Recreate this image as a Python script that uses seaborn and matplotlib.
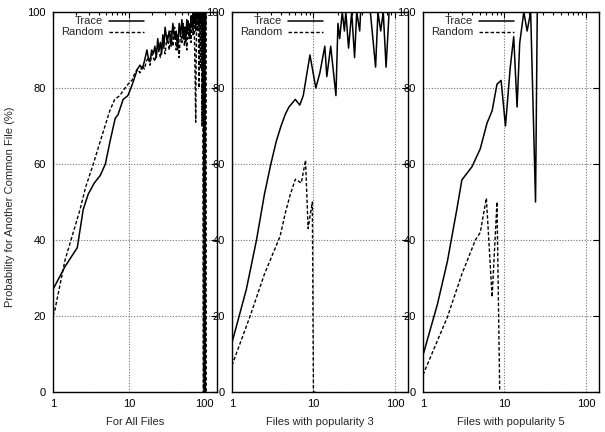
import matplotlib
matplotlib.use("Agg")
import matplotlib.pyplot as plt
import matplotlib.ticker as mticker
import numpy as np
import seaborn as sns

# Panel 1: all files
all_trace_x = [1, 1.44, 2.09, 2.5, 2.9, 3.5, 4.2, 4.9, 5.65, 6.6, 7.2, 8.4, 9.7, 10.9, 12, 13, 14, 15, 16, 17.3,
               18, 19, 20, 21, 22, 23, 24, 25, 26, 27, 28, 29, 30, 32, 34, 36, 38, 40, 42, 44, 46, 48, 50, 52,
               54, 56, 58, 60, 62, 64, 66, 68, 70, 72, 74, 76, 78, 80, 82, 84, 86, 88, 90, 92, 94, 96, 97,
               98, 100, 102, 104, 106]
all_trace_y = [27, 33, 38, 48, 52, 55, 57, 60, 66, 72, 73, 77, 78, 80.5, 83, 85, 86, 85, 87, 90,
               88, 87, 90, 89, 91, 88, 93, 90, 92, 89, 94, 91, 96, 92, 95, 91, 97, 93, 95, 90, 97, 94, 98, 93,
               96, 92, 98, 95, 97, 93, 99, 96, 100, 97, 100, 95, 100, 98, 100, 96, 100, 100, 97, 100, 88, 100, 50,
               100, 100, 96, 100, 100]
all_rand_x = [1, 1.06, 1.44, 2.27, 2.7, 3.4, 4.2, 5.6, 6.5, 7.6, 8.9, 10.3, 11, 12, 13, 14, 15, 16, 17, 18, 19,
              20, 22, 24, 26, 28, 30, 32, 34, 36, 38, 40, 42, 44, 46, 48, 50, 52, 54, 56, 58, 60, 62, 64, 66,
              68, 70, 72, 74, 76, 78, 80, 82, 84, 86, 88, 90, 92, 94, 96, 97, 98, 99, 100, 101, 102, 103, 104]
all_rand_y = [20, 21.6, 34.7, 48, 54, 60, 66, 74, 77, 78, 80, 81.6, 82, 84, 85, 84, 86, 85, 87, 88, 86,
              89, 87, 91, 88, 92, 89, 94, 90, 95, 91, 96, 90, 94, 88, 95, 92, 97, 91, 96, 90, 98, 93, 97, 92,
              99, 94, 100, 88, 71, 100, 95, 100, 80, 100, 85, 100, 70, 100, 0, 100, 0, 100, 0, 100, 0, 100, 0]

# Panel 2: files with popularity 3
p3_trace_x = [1, 1.5, 2, 2.5, 3, 3.5, 4, 4.5, 5, 6, 6.8, 7.5, 9.06, 10.7, 12, 13.8, 14.6, 16.3, 18.9, 20, 21,
              22.6, 24, 25, 27, 29.5, 32, 34, 37, 38, 50, 58, 62, 67, 72, 78, 85, 100]
p3_trace_y = [13, 27, 40, 52, 60, 66, 70, 73, 75, 77, 75.5, 78, 88.7, 80, 84, 91, 83, 91, 78, 97, 93,
              100, 95, 100, 90.5, 100, 88, 100, 95, 100, 100, 85.5, 100, 95, 100, 85.5, 100, 100]
p3_rand_x = [1, 1.67, 2.5, 3.9, 4.5, 5.2, 6.0, 7.1, 8.0, 8.6, 9.2, 9.7, 10.0, 10.7]
p3_rand_y = [7, 20, 31, 41, 47, 52, 56, 55, 61, 43, 47, 50, 0, 0]

# Panel 3: files with popularity 5
p5_trace_x = [1, 1.5, 1.99, 2.6, 3.0, 4.0, 5.05, 6.1, 7.06, 8.1, 9.1, 10.3, 11.8, 13, 14.3, 15.4, 17.3, 19,
              21, 24.1, 25.3, 28]
p5_trace_y = [9.7, 23, 34.3, 48, 55.8, 59.3, 64, 70.7, 74, 81, 82, 70, 85.5, 93.5, 75, 91.8, 100, 95,
              100, 50, 100, 100]
p5_rand_x = [1, 2, 3, 4.4, 5.05, 6.0, 7.06, 8.1, 8.75]
p5_rand_y = [4.5, 19.8, 31, 40, 42, 51, 25, 50, 0.5]

panels = [
    ("For All Files", all_trace_x, all_trace_y, all_rand_x, all_rand_y),
    ("Files with popularity 3", p3_trace_x, p3_trace_y, p3_rand_x, p3_rand_y),
    ("Files with popularity 5", p5_trace_x, p5_trace_y, p5_rand_x, p5_rand_y),
]

sns.set_style("white")
plt.rcParams["font.family"] = ["Liberation Sans", "DejaVu Sans"]
plt.rcParams["font.size"] = 8

fig = plt.figure(figsize=(6.05, 4.32), dpi=100)
boxes = [(53, 217), (232, 408), (423, 599)]
top_px, bot_px = 12, 392
W, H = 605, 432
trace_style = dict(color="black", linewidth=1.1)
rand_style = dict(color="black", linewidth=1.0, linestyle=(0, (2.5, 1.5)))

for (x0, x1), (xlabel, tx, ty, rx, ry) in zip(boxes, panels):
    ax = fig.add_axes([x0 / W, 1 - bot_px / H, (x1 - x0) / W, (bot_px - top_px) / H])
    sns.lineplot(x=tx, y=ty, ax=ax, estimator=None, sort=False, legend=False, **trace_style)
    sns.lineplot(x=rx, y=ry, ax=ax, estimator=None, sort=False, legend=False, **rand_style)
    ax.set_xscale("log")
    ax.set_xlim(1, 145)
    ax.set_ylim(0, 100)
    ax.xaxis.set_major_locator(mticker.FixedLocator([1, 10, 100]))
    ax.xaxis.set_major_formatter(mticker.FixedFormatter(["1", "10", "100"]))
    ax.xaxis.set_minor_locator(mticker.LogLocator(base=10, subs=np.arange(2, 10)))
    ax.xaxis.set_minor_formatter(mticker.NullFormatter())
    ax.set_yticks([0, 20, 40, 60, 80, 100])
    ax.tick_params(which="both", direction="in", top=True, right=True, colors="black",
                   labelsize=8, width=0.8)
    ax.tick_params(which="major", length=4, pad=5)
    ax.tick_params(which="minor", length=2)
    ax.grid(True, which="major", color="0.45", linestyle=(0, (1, 1.5)), linewidth=0.8)
    for s in ax.spines.values():
        s.set_color("black")
        s.set_linewidth(1.0)
    ax.set_xlabel(xlabel, fontsize=8, labelpad=6)
    ax.set_ylabel("")

    # gnuplot-style key: right-aligned text, sample line after it
    wpx, hpx = x1 - x0, bot_px - top_px
    for row, (label, style) in enumerate([("Trace", trace_style), ("Random", rand_style)]):
        yk = 1 - (9 + 11 * row) / hpx
        ax.text(50 / wpx, yk, label, transform=ax.transAxes, ha="right", va="center", fontsize=8)
        ax.plot([56 / wpx, 91 / wpx], [yk, yk], transform=ax.transAxes, clip_on=False, **style)

fig.text(10 / W, 1 - 207 / H, "Probability for Another Common File (%)", rotation=90,
         ha="center", va="center", fontsize=8)

fig.savefig("out.png", dpi=100)
